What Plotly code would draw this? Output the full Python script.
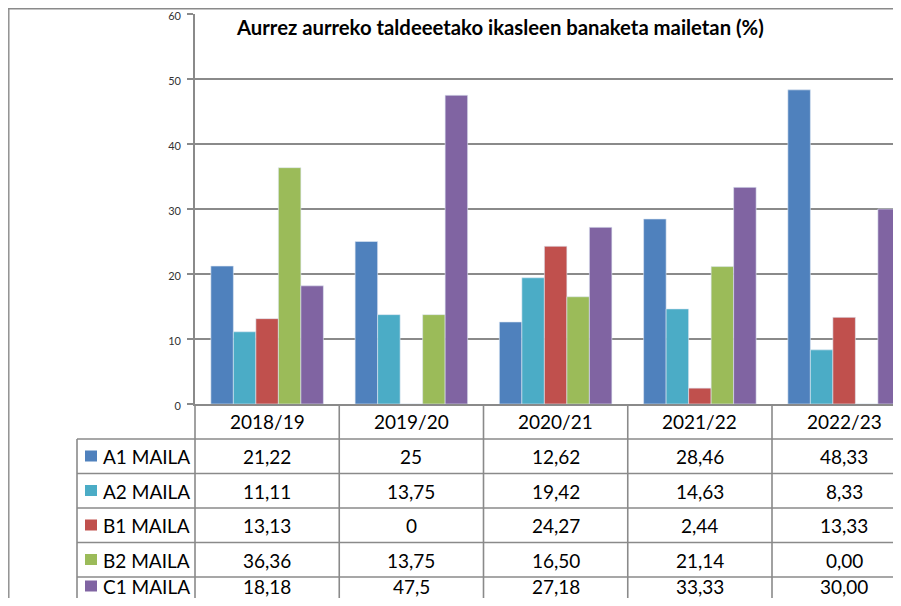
import plotly.graph_objects as go

years = ["2018/19", "2019/20", "2020/21", "2021/22", "2022/23"]
levels = ["A1 MAILA", "A2 MAILA", "B1 MAILA", "B2 MAILA", "C1 MAILA"]
a1 = [21.22, 25, 12.62, 28.46, 48.33]
a2 = [11.11, 13.75, 19.42, 14.63, 8.33]
b1 = [13.13, 0, 24.27, 2.44, 13.33]
b2 = [36.36, 13.75, 16.50, 21.14, 0.00]
c1 = [18.18, 47.5, 27.18, 33.33, 30.00]
# table text as printed in the source (formatting differs per column)
a1_txt = ["21,22", "25", "12,62", "28,46", "48,33"]
a2_txt = ["11,11", "13,75", "19,42", "14,63", "8,33"]
b1_txt = ["13,13", "0", "24,27", "2,44", "13,33"]
b2_txt = ["36,36", "13,75", "16,50", "21,14", "0,00"]
c1_txt = ["18,18", "47,5", "27,18", "33,33", "30,00"]
colors = ["#4F81BD", "#4BACC6", "#C0504D", "#9BBB59", "#8064A2"]

# the page body keeps its 8px margin on every side, so the figure fits inside it
OFF = 8
W, H = 901 - 2 * OFF, 606 - 2 * OFF
FONT = "Lato, 'Open Sans', sans-serif"
GRID = "#8a8a8a"

series = [a1, a2, b1, b2, c1]
texts = [a1_txt, a2_txt, b1_txt, b2_txt, c1_txt]


def fx(px):
    return (px - OFF) / W


def fy(py):
    return 1 - (py - OFF) / H


# plot area (window pixels)
px_left, px_top, px_bottom = 195, 14, 404
cat_w = 144.25
x_dom = [fx(px_left), 1.0]
x_rng = [-0.5, -0.5 + (OFF + W - px_left) / cat_w]
y_dom = [fy(px_bottom), fy(px_top)]


def xp(v):
    return x_dom[0] + (v - x_rng[0]) / (x_rng[1] - x_rng[0]) * (x_dom[1] - x_dom[0])


fig = go.Figure()
for name, vals, col in zip(levels, series, colors):
    fig.add_trace(go.Bar(x=list(range(len(years))), y=vals, name=name,
                         marker=dict(color=col, line=dict(color="#dfe8f3", width=0.6))))

shapes = []
line = dict(color=GRID, width=1.6)
# chart border (left and top visible)
shapes.append(dict(type="line", xref="paper", yref="paper", x0=0.8 / W, x1=0.8 / W,
                   y0=0, y1=1, line=dict(color=GRID, width=1.4)))
shapes.append(dict(type="line", xref="paper", yref="paper", x0=0, x1=1,
                   y0=1 - 0.8 / H, y1=1 - 0.8 / H, line=dict(color=GRID, width=1.4)))
# table rows (rows slightly tighter so the last row's text stays inside the window)
row_y = [439, 473.5, 508, 542.5, 577]
for ry in row_y:
    shapes.append(dict(type="line", xref="paper", yref="paper", x0=fx(77), x1=1.0,
                       y0=fy(ry), y1=fy(ry), line=line))
shapes.append(dict(type="line", xref="paper", yref="paper", x0=fx(77), x1=fx(77),
                   y0=fy(439), y1=0, line=line))
for i in range(len(years)):
    xb = xp(i - 0.5)
    shapes.append(dict(type="line", xref="paper", yref="paper", x0=xb, x1=xb,
                       y0=fy(404), y1=0, line=line))

ann = [dict(text="<b>Aurrez aurreko taldeeetako ikasleen banaketa mailetan (%)</b>",
            xref="paper", yref="paper", x=fx(500), y=fy(26.5), xanchor="center", yanchor="middle",
            showarrow=False, font=dict(size=20.3, color="black", family=FONT))]
for i, yr in enumerate(years):
    ann.append(dict(text=yr, xref="paper", yref="paper", x=xp(i), y=fy(421.5),
                    xanchor="center", yanchor="middle", showarrow=False,
                    font=dict(size=19, color="black", family=FONT)))
row_c = [456.5, 491, 525.5, 560, 586.5]
for r, (name, col, txt) in enumerate(zip(levels, colors, texts)):
    shapes.append(dict(type="rect", xref="paper", yref="paper", x0=fx(85), x1=fx(97),
                       y0=fy(row_c[r] + 5), y1=fy(row_c[r] - 6), fillcolor=col,
                       line=dict(width=0)))
    ann.append(dict(text=name, xref="paper", yref="paper",
                    x=fx(101), y=fy(row_c[r]), xanchor="left", yanchor="middle", showarrow=False,
                    font=dict(size=19, color="black", family=FONT)))
    for i, t in enumerate(txt):
        ann.append(dict(text=t, xref="paper", yref="paper", x=xp(i), y=fy(row_c[r]),
                        xanchor="center", yanchor="middle", showarrow=False,
                        font=dict(size=19, color="black", family=FONT)))

fig.update_layout(
    width=W, height=H,
    margin=dict(l=0, r=0, t=0, b=0, autoexpand=False),
    paper_bgcolor="white", plot_bgcolor="white",
    barmode="group", bargap=0.22, bargroupgap=0,
    showlegend=False,
    font=dict(family=FONT, color="black"),
    xaxis=dict(domain=x_dom, range=x_rng, showticklabels=False, showgrid=False, automargin=False,
               zeroline=False, showline=True, linecolor=GRID, linewidth=1.6, ticks=""),
    yaxis=dict(domain=y_dom, range=[0, 60], dtick=10, showline=True, linecolor=GRID,
               linewidth=1.6, ticks="outside", ticklen=6, tickcolor=GRID, tickwidth=1.6,
               showgrid=True, gridcolor=GRID, gridwidth=1.6, zeroline=False, automargin=False,
               ticklabeloverflow="allow", ticklabelstandoff=4, ticklabelshift=2,
               tickfont=dict(size=11, color="#333333", family=FONT)),
    shapes=shapes,
    annotations=ann,
)

fig.write_html("out.html")
